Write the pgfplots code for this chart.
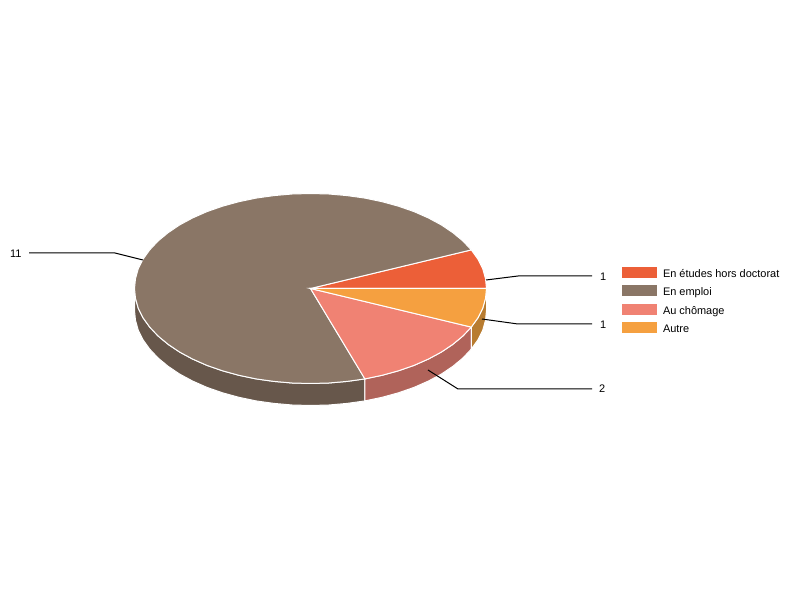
\documentclass[border=0pt]{standalone}
\usepackage{fontspec}
\setmainfont{Liberation Sans}
\usepackage{pgfplots}
\pgfplotsset{compat=1.18}
\definecolor{etudes}{HTML}{EC5F38}
\definecolor{emploi}{HTML}{8A7666}
\definecolor{chomage}{HTML}{F08273}
\definecolor{autre}{HTML}{F5A040}
\definecolor{emploiside}{HTML}{67574B}
\definecolor{chomageside}{HTML}{B0635A}
\definecolor{autreside}{HTML}{B87C30}
\newcommand{\lab}{\fontsize{11}{13}\selectfont}
\begin{document}
\begin{tikzpicture}
\begin{axis}[
  width=800bp, height=600bp, scale only axis,
  hide axis, clip=false,
  xmin=-310.5, xmax=489.5, ymin=-311.5, ymax=288.5,
  no markers,
  legend cell align=left,
  legend image code/.code={\path[#1,draw=none] (0bp,-3bp) rectangle (35bp,8bp);},
  legend style={
    at={(axis cs:311.5,21.5)}, anchor=north west,
    draw=none, fill=none, inner sep=0pt, outer sep=0pt,
    font=\lab, row sep=4.8bp, column sep=6bp,
    nodes={inner sep=0pt, text height=8bp, text depth=3bp},
  },
  slice/.style={draw=white, line width=1bp},
  leader/.style={black, line width=1bp, forget plot},
]
\path (axis cs:-310.5,-311.5) rectangle (axis cs:489.5,288.5);

% side walls
\addplot[slice, fill=emploiside, forget plot] coordinates {
  (-176,0) (-175,-9.9) (-172.2,-19.8) (-167.4,-29.4) (-160.8,-38.6) (-152.4,-47.5)
  (-142.4,-55.8) (-130.8,-63.6) (-117.8,-70.6) (-103.5,-76.9) (-88,-82.3) (-71.6,-86.8)
  (-54.4,-90.4) (-36.6,-92.9) (-18.4,-94.5) (0,-95) (18.4,-94.5) (36.6,-92.9) (54.4,-90.4)
  (54.4,-112.4) (36.6,-114.9) (18.4,-116.5) (0,-117) (-18.4,-116.5) (-36.6,-114.9)
  (-54.4,-112.4) (-71.6,-108.8) (-88,-104.3) (-103.5,-98.9) (-117.8,-92.6) (-130.8,-85.6)
  (-142.4,-77.8) (-152.4,-69.5) (-160.8,-60.6) (-167.4,-51.4) (-172.2,-41.8) (-175,-31.9) (-176,-22)
} --cycle;
\addplot[slice, fill=chomageside, forget plot] coordinates {
  (54.4,-90.4) (71.6,-86.8) (88,-82.3) (103.5,-76.9) (117.8,-70.6) (130.8,-63.6)
  (142.4,-55.8) (152.4,-47.5) (160.8,-38.6)
  (160.8,-60.6) (152.4,-69.5) (142.4,-77.8) (130.8,-85.6) (117.8,-92.6) (103.5,-98.9)
  (88,-104.3) (71.6,-108.8) (54.4,-112.4)
} --cycle;
\addplot[slice, fill=autreside, forget plot] coordinates {
  (160.8,-38.6) (167.4,-29.4) (172.2,-19.8) (175,-9.9) (176,0)
  (176,-22) (175,-31.9) (172.2,-41.8) (167.4,-51.4) (160.8,-60.6)
} --cycle;

% top faces
\addplot[slice, fill=etudes] coordinates {
  (0,0) (176,0) (175,9.9) (172.2,19.8) (167.4,29.4) (160.8,38.6)
} --cycle;
\addlegendentry{En études hors doctorat}
\addplot[slice, fill=emploi] coordinates {
  (0,0) (160.8,38.6) (152.4,47.5) (142.4,55.8) (130.8,63.6) (117.8,70.6) (103.5,76.9)
  (88,82.3) (71.6,86.8) (54.4,90.4) (36.6,92.9) (18.4,94.5) (0,95) (-18.4,94.5)
  (-36.6,92.9) (-54.4,90.4) (-71.6,86.8) (-88,82.3) (-103.5,76.9) (-117.8,70.6)
  (-130.8,63.6) (-142.4,55.8) (-152.4,47.5) (-160.8,38.6) (-167.4,29.4) (-172.2,19.8)
  (-175,9.9) (-176,0) (-175,-9.9) (-172.2,-19.8) (-167.4,-29.4) (-160.8,-38.6)
  (-152.4,-47.5) (-142.4,-55.8) (-130.8,-63.6) (-117.8,-70.6) (-103.5,-76.9) (-88,-82.3)
  (-71.6,-86.8) (-54.4,-90.4) (-36.6,-92.9) (-18.4,-94.5) (0,-95) (18.4,-94.5)
  (36.6,-92.9) (54.4,-90.4)
} --cycle;
\addlegendentry{En emploi}
\addplot[slice, fill=chomage] coordinates {
  (0,0) (54.4,-90.4) (71.6,-86.8) (88,-82.3) (103.5,-76.9) (117.8,-70.6) (130.8,-63.6)
  (142.4,-55.8) (152.4,-47.5) (160.8,-38.6)
} --cycle;
\addlegendentry{Au chômage}
\addplot[slice, fill=autre] coordinates {
  (0,0) (160.8,-38.6) (167.4,-29.4) (172.2,-19.8) (175,-9.9) (176,0)
} --cycle;
\addlegendentry{Autre}

% leader lines
\addplot[leader] coordinates {(175.5,8.5) (207.5,12.5) (281.5,12.5)};
\addplot[leader] coordinates {(171.5,-30.5) (207.5,-35.5) (281.5,-35.5)};
\addplot[leader] coordinates {(117.5,-81.5) (147.5,-100.5) (281.5,-100.5)};
\addplot[leader] coordinates {(-167.5,28.5) (-195.5,35.5) (-281.5,35.5)};

\node[font=\lab, inner sep=0pt, anchor=west] at (axis cs:289.5,11.8) {1};
\node[font=\lab, inner sep=0pt, anchor=west] at (axis cs:289.5,-36.2) {1};
\node[font=\lab, inner sep=0pt, anchor=west] at (axis cs:288.5,-100.5) {2};
\node[font=\lab, inner sep=0pt, anchor=east] at (axis cs:-288.8,34.8) {11};
\end{axis}
\useasboundingbox (0,0) rectangle (800bp,600bp);
\end{tikzpicture}
\end{document}
